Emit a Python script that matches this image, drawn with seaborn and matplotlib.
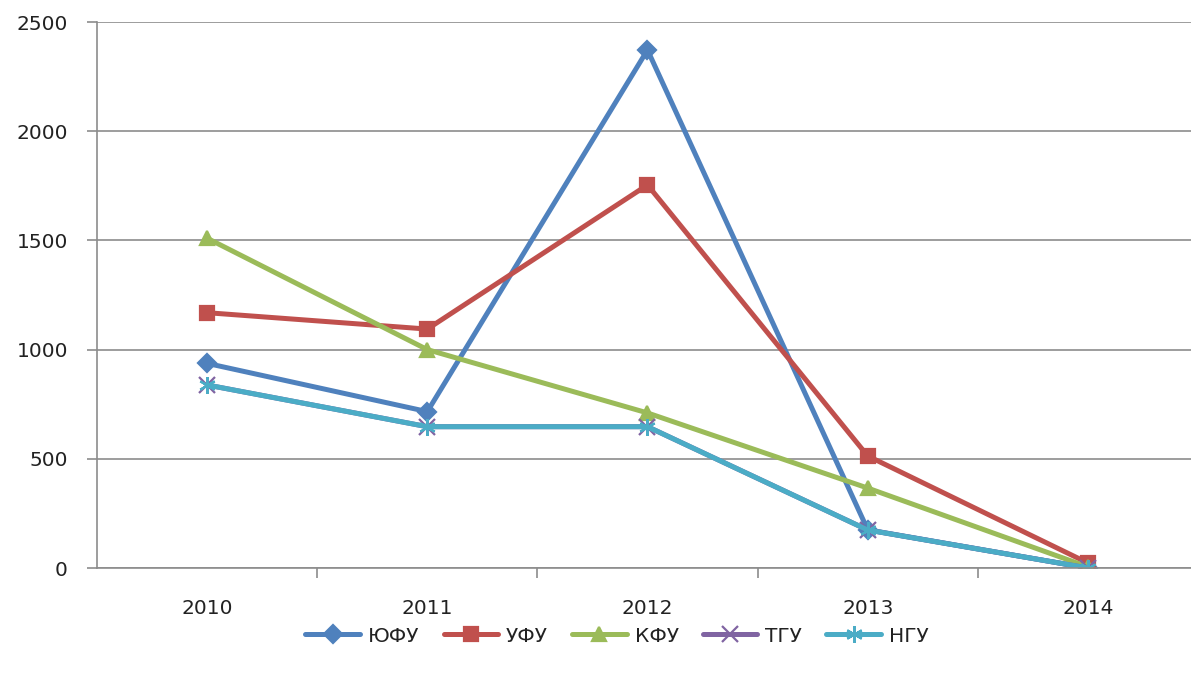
import matplotlib
matplotlib.use("Agg")
import matplotlib.pyplot as plt
import seaborn as sns
import pandas as pd
from matplotlib.ticker import FixedLocator

years = ["2010", "2011", "2012", "2013", "2014"]
series_names = ["ЮФУ", "УФУ", "КФУ", "ТГУ", "НГУ"]
yufu = [937, 716, 2372, 175, 0]
ufu = [1169, 1094, 1754, 513, 23]
kfu = [1510, 1000, 710, 366, 5]
tgu = [838, 647, 647, 174, 0]
ngu = [838, 647, 647, 174, 0]
yticks = [0, 500, 1000, 1500, 2000, 2500]

values = [yufu, ufu, kfu, tgu, ngu]

sns.set_theme(style="white")
plt.rcParams["font.family"] = ["DejaVu Sans"]

colors = ["#4F81BD", "#C0504D", "#9BBB59", "#8064A2", "#4BACC6"]
markers = ["D", "s", "^", "x", (6, 2, 0)]
msizes = [9, 10, 10, 11, 12]

fig = plt.figure(figsize=(11.91, 6.75), dpi=100)
ax = fig.add_axes([97 / 1191, 107 / 675, 1101 / 1191, 546 / 675])

for name, vals, c, m, ms in zip(series_names, values, colors, markers, msizes):
    d = pd.DataFrame({"year": years, "value": vals})
    sns.lineplot(data=d, x="year", y="value", color=c, marker=m,
                 markersize=ms, markeredgewidth=1.6, markeredgecolor=c,
                 markerfacecolor=c, linewidth=3.6, label=name, ax=ax, sort=False)

ax.set_xlim(-0.5, 4.5)
ax.set_ylim(0, 2500)
ax.set_yticks(yticks)
ax.set_xlabel("")
ax.set_ylabel("")

grid_c = "#8C8C8C"
ax.yaxis.grid(True, color=grid_c, linewidth=1.2)
ax.xaxis.grid(False)
ax.set_axisbelow(True)
for s in ["top", "right"]:
    ax.spines[s].set_visible(False)
for s in ["left", "bottom"]:
    ax.spines[s].set_color(grid_c)
    ax.spines[s].set_linewidth(1.2)

ax.tick_params(axis="y", which="major", direction="out", length=7, width=1.2,
               color=grid_c, left=True, pad=14, labelsize=14.5, labelcolor="#222222")
ax.tick_params(axis="x", which="major", length=0, pad=22, labelsize=14.5,
               labelcolor="#222222")
ax.xaxis.set_minor_locator(FixedLocator([0.5, 1.5, 2.5, 3.5]))
ax.tick_params(axis="x", which="minor", direction="out", length=7, width=1.2,
               color=grid_c, bottom=True)

handles, labels = ax.get_legend_handles_labels()
ax.get_legend().remove()
fig.legend(handles, labels, loc="center", bbox_to_anchor=(617 / 1191, 1 - 636 / 675),
           ncol=5, frameon=False, fontsize=14.5, handlelength=2.7,
           handletextpad=0.4, columnspacing=1.2, labelcolor="#222222")

fig.savefig("out.png", dpi=100, facecolor="white")
